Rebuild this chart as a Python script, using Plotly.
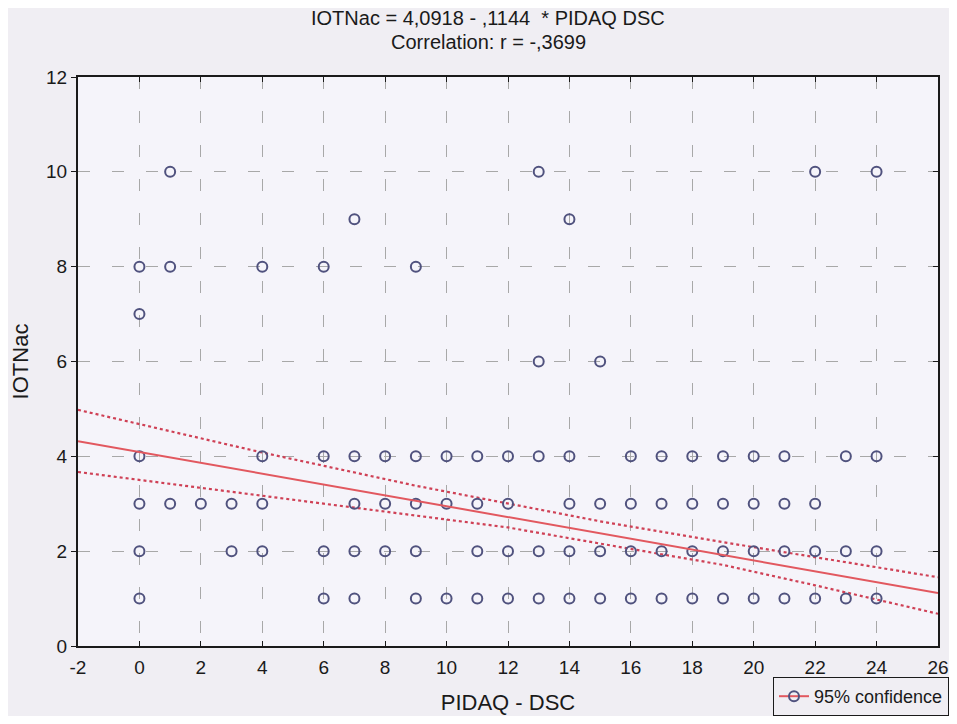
import plotly.graph_objects as go

# ---- data ----
# PIDAQ - DSC values observed at each IOTNac level
x_at_10 = [1, 13, 22, 24]
x_at_9 = [7, 14]
x_at_8 = [0, 1, 4, 6, 9]
x_at_7 = [0]
x_at_6 = [13, 15]
x_at_4 = [0, 4, 6, 7, 8, 9, 10, 11, 12, 13, 14, 16, 17, 18, 19, 20, 21, 23, 24]
x_at_3 = [0, 1, 2, 3, 4, 7, 8, 9, 10, 11, 12, 14, 15, 16, 17, 18, 19, 20, 21, 22]
x_at_2 = [0, 3, 4, 6, 7, 8, 9, 11, 12, 13, 14, 15, 16, 17, 18, 19, 20, 21, 22, 23, 24]
x_at_1 = [0, 6, 7, 9, 10, 11, 12, 13, 14, 15, 16, 17, 18, 19, 20, 21, 22, 23, 24]

levels = [10, 9, 8, 7, 6, 4, 3, 2, 1]
groups = [x_at_10, x_at_9, x_at_8, x_at_7, x_at_6, x_at_4, x_at_3, x_at_2, x_at_1]

# regression (from chart title)
intercept = 4.0918
slope = -0.1144
fit_x = [-2, 26]

# 95% confidence band
ci_x = [-2, 4, 9, 12, 15, 19, 22, 26]
ci_upper = [4.98, 4.08, 3.38, 3.00, 2.63, 2.19, 1.87, 1.45]
ci_lower = [3.67, 3.17, 2.75, 2.50, 2.16, 1.71, 1.28, 0.68]

x_ticks = list(range(-2, 27, 2))
y_ticks = list(range(0, 13, 2))

title_line1 = "IOTNac = 4,0918 - ,1144\u00a0\u00a0* PIDAQ DSC"
title_line2 = "Correlation: r = -,3699"

# ---- build points ----
px, py = [], []
for lvl, xs in zip(levels, groups):
    px.extend(xs)
    py.extend([lvl] * len(xs))

FONT = "Liberation Sans, Arial, sans-serif"
PAPER = "#f0eef3"
PLOT = "#f5f4fa"
RED = "#e2585f"
RED_DOT = "#cf4055"
BLUE = "#50527e"
INK = "#1a1a1a"

fig = go.Figure()

fig.add_trace(go.Scatter(
    x=ci_x, y=ci_upper, mode="lines", showlegend=False, hoverinfo="skip",
    line=dict(color=RED_DOT, width=2.2, dash="dot")))
fig.add_trace(go.Scatter(
    x=ci_x, y=ci_lower, mode="lines", showlegend=False, hoverinfo="skip",
    line=dict(color=RED_DOT, width=2.2, dash="dot")))
fig.add_trace(go.Scatter(
    x=fit_x, y=[intercept + slope * v for v in fit_x], mode="lines",
    showlegend=False, line=dict(color=RED, width=2), yaxis="y2"))
fig.add_trace(go.Scatter(
    x=px, y=py, mode="markers", showlegend=False,
    marker=dict(symbol="circle-open", size=10, color=BLUE, line=dict(width=2, color=BLUE))))
# legend-only entry
fig.add_trace(go.Scatter(
    x=[None], y=[None], mode="lines+markers", name="95% confidence",
    line=dict(color=RED, width=2),
    marker=dict(symbol="circle-open", size=10, color=BLUE, line=dict(width=2, color=BLUE))))

axis_common = dict(
    showline=True, linecolor=INK, linewidth=2,
    showgrid=True, gridcolor="#a8a8a8", gridwidth=1, griddash="12px,22px",
    zeroline=False, tickcolor=INK, ticklen=5, tickwidth=1,
    tickfont=dict(family=FONT, size=19, color=INK),
    ticklabeloverflow="allow",
)

W, H = 941, 708
L, R, T, B = 70, 11, 69, 70

fig.update_layout(
    width=W, height=H,
    paper_bgcolor=PAPER, plot_bgcolor=PLOT,
    margin=dict(l=L, r=R, t=T, b=B, autoexpand=False),
    font=dict(family=FONT, color=INK),
    xaxis=dict(
        range=[-2, 26], tickmode="array", tickvals=x_ticks,
        ticktext=[str(v) for v in x_ticks],
        ticks="inside", mirror="ticks", ticklabelstandoff=3,
        title=dict(text="PIDAQ - DSC", font=dict(family=FONT, size=22), standoff=18),
        **axis_common),
    yaxis=dict(
        range=[0, 12], tickmode="array", tickvals=y_ticks,
        ticks="outside", mirror=True,
        title=dict(text="IOTNac", font=dict(family=FONT, size=22), standoff=11),
        **axis_common),
    yaxis2=dict(
        range=[0, 12], overlaying="y", side="right", tickmode="array",
        tickvals=y_ticks, ticks="inside", ticklen=5, tickcolor=INK,
        showticklabels=False, showgrid=False, showline=False, zeroline=False),
    legend=dict(
        x=765 / W, xanchor="left", xref="container",
        y=0.0, yanchor="bottom", yref="container",
        bgcolor=PAPER, bordercolor=INK, borderwidth=1,
        font=dict(family=FONT, size=18, color=INK)),
    annotations=[
        dict(text=title_line1, xref="paper", yref="paper",
             x=(480 - L) / (W - L - R), y=(H - B - 10) / (H - T - B),
             xanchor="center", yanchor="middle", showarrow=False,
             font=dict(family=FONT, size=20, color=INK)),
        dict(text=title_line2, xref="paper", yref="paper",
             x=(480 - L) / (W - L - R), y=(H - B - 34) / (H - T - B),
             xanchor="center", yanchor="middle", showarrow=False,
             font=dict(family=FONT, size=20, color=INK)),
    ],
)

fig.write_html("out.html")
